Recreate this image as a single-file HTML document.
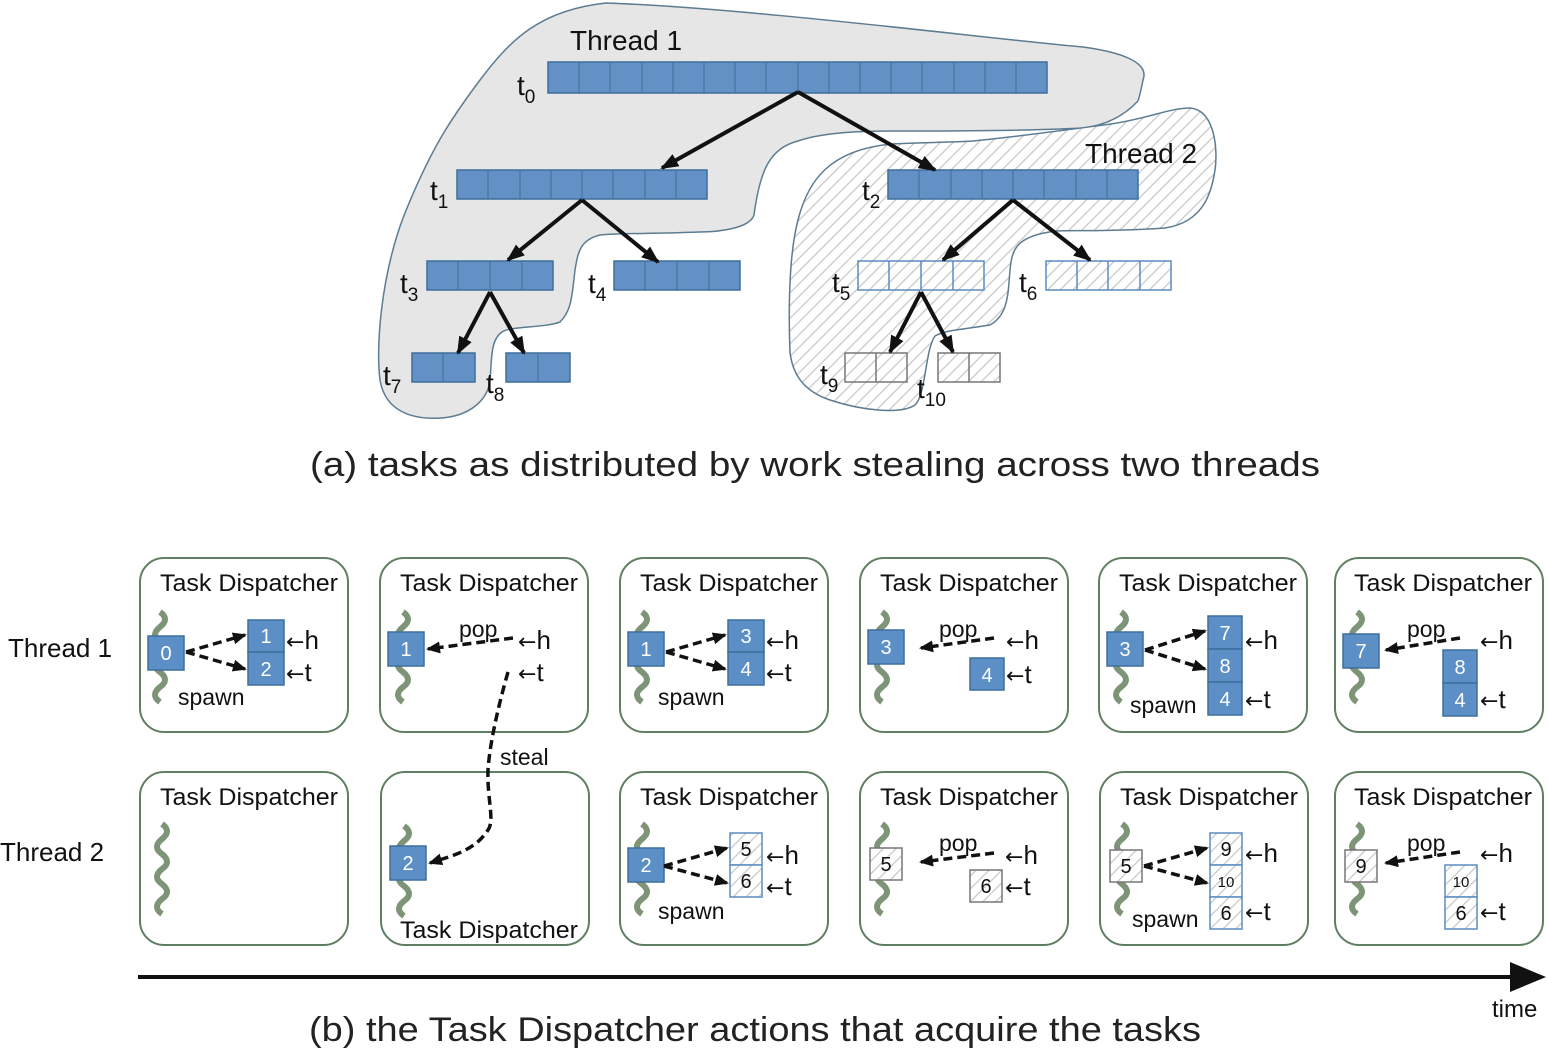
<!DOCTYPE html>
<html><head><meta charset="utf-8"><style>
html,body{margin:0;padding:0;background:#fff}
svg{display:block;font-family:"Liberation Sans",sans-serif}
</style></head><body>
<svg width="1548" height="1056" viewBox="0 0 1548 1056" xmlns="http://www.w3.org/2000/svg">
<defs>
<pattern id="hatch" patternUnits="userSpaceOnUse" width="9" height="9" patternTransform="rotate(45)">
<rect width="9" height="9" fill="#fff"/><line x1="0" y1="0" x2="0" y2="9" stroke="#c8c8c8" stroke-width="2.5"/>
</pattern>
<marker id="ah" markerWidth="18" markerHeight="14" refX="16" refY="7" orient="auto" markerUnits="userSpaceOnUse"><path d="M0,0 L18,7 L0,14 z" fill="#111"/></marker>
<marker id="ad" markerWidth="14" markerHeight="12" refX="12" refY="6" orient="auto" markerUnits="userSpaceOnUse"><path d="M0,0 L14,6 L0,12 z" fill="#111"/></marker>
<path id="sq" d="M0,0 q10,7 0,15 q-10,8 0,15 q10,8 0,15 q-10,8 0,15 q10,8 0,15 q-10,8 0,15" fill="none" stroke="#7d9477" stroke-width="6"/>
</defs>

<path d="M606,3 C750,8 1000,40 1083,47 C1120,52 1150,62 1143,80 C1140,95 1138,101 1138,101 C1120,120 1100,126 1083,128 C1020,131 950,131 918,131 C880,131 830,130 798,141 C770,148 760,170 754,215 C750,228 720,232 699,232 C650,234 620,233 600,235 C580,240 578,252 575,270 C572,295 572,310 560,322 C545,328 510,326 502,332 C490,340 492,360 490,380 C488,400 470,416 441,418 C410,420 385,410 380,380 C376,350 380,280 403,218 C430,150 450,120 480,80 C510,40 540,10 606,3 Z" fill="#e6e6e6" stroke="#5c7c92" stroke-width="1.5"/>
<path d="M891,144 C940,142 960,142 973,141 C1040,134 1080,128 1111,124 C1150,118 1170,108 1190,108 C1215,110 1218,150 1215,170 C1212,190 1205,222 1165,228 C1110,232 1070,230 1056,231 C1015,236 1012,250 1010,270 C1008,295 1008,315 990,325 C960,330 945,330 935,336 C925,350 926,395 915,405 C900,415 860,410 830,400 C800,390 792,370 790,352 C788,300 790,250 798,220 C808,180 830,150 891,144 Z" fill="url(#hatch)" stroke="#5c7c92" stroke-width="1.5"/>

<g font-size="28" fill="#111">
<text x="570" y="50">Thread 1</text>
<text x="1085" y="163">Thread 2</text>
</g>

<g stroke="#3e6e9c" stroke-width="1.5">
<rect x="548" y="62" width="499" height="31" fill="#6391c5"/>
<rect x="457" y="170" width="250" height="29" fill="#6391c5"/>
<rect x="888" y="170" width="250" height="29" fill="#6391c5"/>
<rect x="427" y="261" width="126" height="29" fill="#6391c5"/>
<rect x="614" y="261" width="126" height="29" fill="#6391c5"/>
<rect x="412" y="353" width="63" height="29" fill="#6391c5"/>
<rect x="506" y="353" width="64" height="29" fill="#6391c5"/>
<rect x="858" y="261" width="126" height="29" fill="url(#hatch)" stroke="#5b8cc0"/>
<rect x="1046" y="261" width="125" height="29" fill="url(#hatch)" stroke="#5b8cc0"/>
<rect x="845" y="353" width="62" height="29" fill="url(#hatch)" stroke="#777"/>
<rect x="938" y="353" width="62" height="29" fill="url(#hatch)" stroke="#777"/>
</g>
<path stroke="#3e6e9c" stroke-width="1" fill="none" d="M579,62V93M610,62V93M642,62V93M673,62V93M704,62V93M735,62V93M766,62V93M798,62V93M829,62V93M860,62V93M891,62V93M922,62V93M954,62V93M985,62V93M1016,62V93
M488,170V199M520,170V199M551,170V199M582,170V199M613,170V199M645,170V199M676,170V199
M919,170V199M951,170V199M982,170V199M1013,170V199M1044,170V199M1076,170V199M1107,170V199
M458,261V290M490,261V290M522,261V290M645,261V290M677,261V290M709,261V290
M443,353V382M538,353V382"/>
<path stroke="#5b8cc0" stroke-width="1.5" fill="none" d="M889,261V290M921,261V290M953,261V290M1077,261V290M1108,261V290M1140,261V290"/>
<path stroke="#777" stroke-width="1.5" fill="none" d="M876,353V382M969,353V382"/>

<g stroke="#111" stroke-width="4" fill="none" marker-end="url(#ah)">
<line x1="798" y1="92" x2="662" y2="168"/>
<line x1="798" y1="92" x2="935" y2="170"/>
<line x1="582" y1="200" x2="508" y2="260"/>
<line x1="582" y1="200" x2="658" y2="262"/>
<line x1="1013" y1="200" x2="943" y2="260"/>
<line x1="1013" y1="200" x2="1090" y2="260"/>
<line x1="490" y1="292" x2="458" y2="353"/>
<line x1="490" y1="292" x2="524" y2="353"/>
<line x1="921" y1="292" x2="890" y2="352"/>
<line x1="921" y1="292" x2="953" y2="352"/>
</g>

<g font-size="28" fill="#111">
<text x="517" y="95">t<tspan font-size="19" dy="8">0</tspan></text>
<text x="430" y="200">t<tspan font-size="19" dy="8">1</tspan></text>
<text x="862" y="200">t<tspan font-size="19" dy="8">2</tspan></text>
<text x="400" y="293">t<tspan font-size="19" dy="8">3</tspan></text>
<text x="588" y="293">t<tspan font-size="19" dy="8">4</tspan></text>
<text x="832" y="292">t<tspan font-size="19" dy="8">5</tspan></text>
<text x="1019" y="292">t<tspan font-size="19" dy="8">6</tspan></text>
<text x="383" y="385">t<tspan font-size="19" dy="8">7</tspan></text>
<text x="486" y="393">t<tspan font-size="19" dy="8">8</tspan></text>
<text x="820" y="384">t<tspan font-size="19" dy="8">9</tspan></text>
<text x="917" y="398">t<tspan font-size="19" dy="8">10</tspan></text>
</g>

<text x="815" y="476" font-size="34" text-anchor="middle" fill="#222" textLength="1010" lengthAdjust="spacingAndGlyphs">(a) tasks as distributed by work stealing across two threads</text>

<g fill="#fff" stroke="#5f7f62" stroke-width="2">
<rect x="140" y="558" width="208" height="174" rx="24"/>
<rect x="380" y="558" width="208" height="174" rx="24"/>
<rect x="620" y="558" width="208" height="174" rx="24"/>
<rect x="860" y="558" width="208" height="174" rx="24"/>
<rect x="1099" y="558" width="208" height="174" rx="24"/>
<rect x="1335" y="558" width="208" height="174" rx="24"/>
<rect x="140" y="772" width="208" height="173" rx="24"/>
<rect x="381" y="772" width="208" height="173" rx="24"/>
<rect x="620" y="772" width="208" height="173" rx="24"/>
<rect x="860" y="772" width="208" height="173" rx="24"/>
<rect x="1100" y="772" width="208" height="173" rx="24"/>
<rect x="1335" y="772" width="208" height="173" rx="24"/>
</g>
<g font-size="24" fill="#111" text-anchor="middle">
<text x="249" y="591" textLength="178" lengthAdjust="spacingAndGlyphs">Task Dispatcher</text>
<text x="489" y="591" textLength="178" lengthAdjust="spacingAndGlyphs">Task Dispatcher</text>
<text x="729" y="591" textLength="178" lengthAdjust="spacingAndGlyphs">Task Dispatcher</text>
<text x="969" y="591" textLength="178" lengthAdjust="spacingAndGlyphs">Task Dispatcher</text>
<text x="1208" y="591" textLength="178" lengthAdjust="spacingAndGlyphs">Task Dispatcher</text>
<text x="1443" y="591" textLength="178" lengthAdjust="spacingAndGlyphs">Task Dispatcher</text>
<text x="249" y="805" textLength="178" lengthAdjust="spacingAndGlyphs">Task Dispatcher</text>
<text x="489" y="938" textLength="178" lengthAdjust="spacingAndGlyphs">Task Dispatcher</text>
<text x="729" y="805" textLength="178" lengthAdjust="spacingAndGlyphs">Task Dispatcher</text>
<text x="969" y="805" textLength="178" lengthAdjust="spacingAndGlyphs">Task Dispatcher</text>
<text x="1209" y="805" textLength="178" lengthAdjust="spacingAndGlyphs">Task Dispatcher</text>
<text x="1443" y="805" textLength="178" lengthAdjust="spacingAndGlyphs">Task Dispatcher</text>
</g>

<g font-size="26" fill="#111">
<text x="8" y="657">Thread 1</text>
<text x="0" y="861">Thread 2</text>
</g>

<use href="#sq" x="160" y="612"/>
<use href="#sq" x="403" y="612"/>
<use href="#sq" x="642" y="612"/>
<use href="#sq" x="882" y="612"/>
<use href="#sq" x="1121" y="612"/>
<use href="#sq" x="1357" y="612"/>
<use href="#sq" x="162" y="824"/>
<use href="#sq" x="404" y="826"/>
<use href="#sq" x="642" y="824"/>
<use href="#sq" x="882" y="824"/>
<use href="#sq" x="1122" y="824"/>
<use href="#sq" x="1357" y="824"/>

<g fill="#5b8fc5" stroke="#3e6e9c" stroke-width="1.5">
<rect x="148" y="636" width="36" height="34"/>
<rect x="248" y="620" width="36" height="32"/><rect x="248" y="652" width="36" height="33"/>
<rect x="388" y="632" width="36" height="34"/>
<rect x="628" y="632" width="36" height="34"/>
<rect x="728" y="620" width="36" height="32"/><rect x="728" y="652" width="36" height="33"/>
<rect x="868" y="630" width="36" height="34"/>
<rect x="970" y="658" width="34" height="32"/>
<rect x="1107" y="632" width="36" height="34"/>
<rect x="1208" y="616" width="34" height="33"/><rect x="1208" y="649" width="34" height="33"/><rect x="1208" y="682" width="34" height="33"/>
<rect x="1343" y="634" width="36" height="34"/>
<rect x="1443" y="650" width="34" height="33"/><rect x="1443" y="683" width="34" height="33"/>
<rect x="390" y="846" width="36" height="34"/>
<rect x="628" y="848" width="36" height="34"/>
</g>
<g fill="url(#hatch)" stroke="#777" stroke-width="1.5">
<rect x="730" y="833" width="32" height="32" stroke="#5b8cc0"/><rect x="730" y="865" width="32" height="32" stroke="#5b8cc0"/>
<rect x="870" y="848" width="32" height="32"/>
<rect x="970" y="870" width="32" height="32"/>
<rect x="1110" y="850" width="32" height="32"/>
<rect x="1210" y="833" width="32" height="32" stroke="#5b8cc0"/><rect x="1210" y="865" width="32" height="32" stroke="#5b8cc0"/><rect x="1210" y="897" width="32" height="32" stroke="#5b8cc0"/>
<rect x="1345" y="850" width="32" height="32"/>
<rect x="1445" y="865" width="32" height="32" stroke="#5b8cc0"/><rect x="1445" y="897" width="32" height="32" stroke="#5b8cc0"/>
</g>
<g font-size="20" fill="#fff" text-anchor="middle">
<text x="166" y="660">0</text>
<text x="266" y="643">1</text><text x="266" y="676">2</text>
<text x="406" y="656">1</text>
<text x="646" y="656">1</text>
<text x="746" y="643">3</text><text x="746" y="676">4</text>
<text x="886" y="654">3</text>
<text x="987" y="682">4</text>
<text x="1125" y="656">3</text>
<text x="1225" y="640">7</text><text x="1225" y="673">8</text><text x="1225" y="706">4</text>
<text x="1361" y="658">7</text>
<text x="1460" y="674">8</text><text x="1460" y="707">4</text>
<text x="408" y="870">2</text>
<text x="646" y="872">2</text>
</g>
<g font-size="20" fill="#111" text-anchor="middle">
<text x="746" y="856">5</text><text x="746" y="888">6</text>
<text x="886" y="871">5</text>
<text x="986" y="893">6</text>
<text x="1126" y="873">5</text>
<text x="1226" y="856">9</text><text x="1226" y="887" font-size="15">10</text><text x="1226" y="920">6</text>
<text x="1361" y="873">9</text>
<text x="1461" y="887" font-size="15">10</text><text x="1461" y="920">6</text>
</g>

<g font-size="26" fill="#111">
<text x="286" y="649"><tspan font-family="DejaVu Sans" font-size="22">←</tspan>h</text><text x="286" y="681"><tspan font-family="DejaVu Sans" font-size="22">←</tspan>t</text>
<text x="518" y="649"><tspan font-family="DejaVu Sans" font-size="22">←</tspan>h</text><text x="518" y="681"><tspan font-family="DejaVu Sans" font-size="22">←</tspan>t</text>
<text x="766" y="649"><tspan font-family="DejaVu Sans" font-size="22">←</tspan>h</text><text x="766" y="681"><tspan font-family="DejaVu Sans" font-size="22">←</tspan>t</text>
<text x="1006" y="649"><tspan font-family="DejaVu Sans" font-size="22">←</tspan>h</text><text x="1006" y="683"><tspan font-family="DejaVu Sans" font-size="22">←</tspan>t</text>
<text x="1245" y="649"><tspan font-family="DejaVu Sans" font-size="22">←</tspan>h</text><text x="1245" y="708"><tspan font-family="DejaVu Sans" font-size="22">←</tspan>t</text>
<text x="1480" y="649"><tspan font-family="DejaVu Sans" font-size="22">←</tspan>h</text><text x="1480" y="708"><tspan font-family="DejaVu Sans" font-size="22">←</tspan>t</text>
<text x="766" y="864"><tspan font-family="DejaVu Sans" font-size="22">←</tspan>h</text><text x="766" y="895"><tspan font-family="DejaVu Sans" font-size="22">←</tspan>t</text>
<text x="1005" y="864"><tspan font-family="DejaVu Sans" font-size="22">←</tspan>h</text><text x="1005" y="895"><tspan font-family="DejaVu Sans" font-size="22">←</tspan>t</text>
<text x="1245" y="862"><tspan font-family="DejaVu Sans" font-size="22">←</tspan>h</text><text x="1245" y="920"><tspan font-family="DejaVu Sans" font-size="22">←</tspan>t</text>
<text x="1480" y="862"><tspan font-family="DejaVu Sans" font-size="22">←</tspan>h</text><text x="1480" y="920"><tspan font-family="DejaVu Sans" font-size="22">←</tspan>t</text>
</g>
<g font-size="23" fill="#111">
<text x="178" y="705">spawn</text>
<text x="658" y="705">spawn</text>
<text x="1130" y="713">spawn</text>
<text x="658" y="919">spawn</text>
<text x="1132" y="927">spawn</text>
<text x="459" y="637">pop</text>
<text x="939" y="637">pop</text>
<text x="1407" y="637">pop</text>
<text x="939" y="851">pop</text>
<text x="1407" y="851">pop</text>
<text x="500" y="765">steal</text>
</g>

<g stroke="#111" stroke-width="3.5" fill="none" stroke-dasharray="9,5" marker-end="url(#ad)">
<line x1="186" y1="652" x2="245" y2="635"/>
<line x1="186" y1="652" x2="245" y2="669"/>
<line x1="666" y1="652" x2="725" y2="635"/>
<line x1="666" y1="652" x2="725" y2="669"/>
<line x1="1145" y1="650" x2="1205" y2="631"/>
<line x1="1145" y1="650" x2="1205" y2="669"/>
<line x1="664" y1="866" x2="727" y2="848"/>
<line x1="664" y1="866" x2="727" y2="883"/>
<line x1="1144" y1="866" x2="1207" y2="848"/>
<line x1="1144" y1="866" x2="1207" y2="883"/>
<line x1="513" y1="638" x2="428" y2="649"/>
<line x1="994" y1="638" x2="921" y2="648"/>
<line x1="1460" y1="638" x2="1386" y2="650"/>
<line x1="994" y1="853" x2="921" y2="862"/>
<line x1="1460" y1="852" x2="1386" y2="863"/>
<path d="M508,672 C500,700 490,740 488,770 C487,800 495,820 488,830 C475,850 455,855 430,863"/>
</g>

<line x1="138" y1="977" x2="1515" y2="977" stroke="#111" stroke-width="4"/>
<path d="M1510,962 L1546,977 L1510,992 z" fill="#111"/>
<text x="1492" y="1017" font-size="24" fill="#111">time</text>

<text x="755" y="1041" font-size="34" text-anchor="middle" fill="#222" textLength="892" lengthAdjust="spacingAndGlyphs">(b) the Task Dispatcher actions that acquire the tasks</text>
</svg>
</body></html>
